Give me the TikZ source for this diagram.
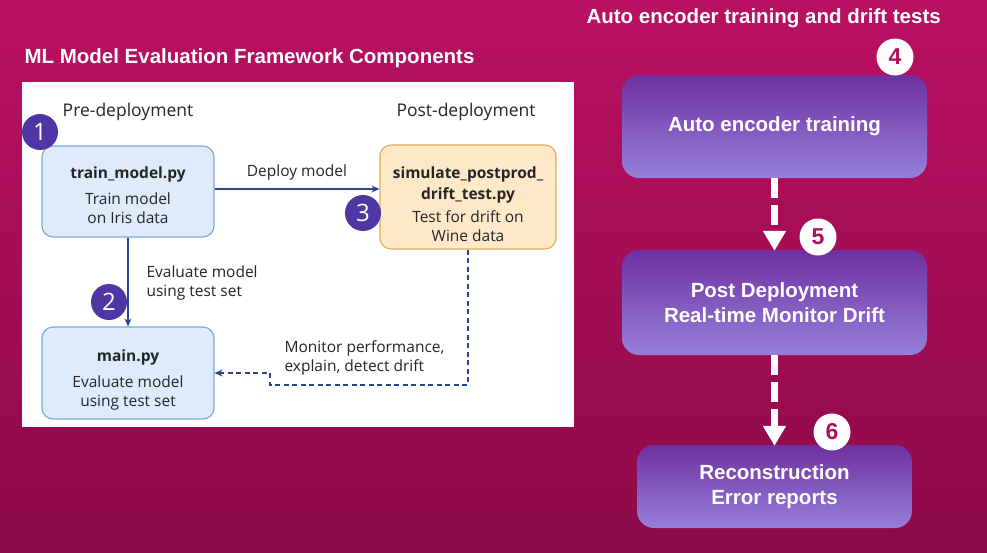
\documentclass[tikz,border=0pt]{standalone}
\usepackage{fontspec}
\setmainfont{Liberation Sans}
\newfontfamily\panelfont{Open Sans}
\usetikzlibrary{arrows.meta,positioning}

\definecolor{bgtop}{RGB}{186,16,98}
\definecolor{bgbot}{RGB}{140,10,72}
\definecolor{stepblue}{RGB}{221,235,251}
\definecolor{stepblueline}{RGB}{126,166,218}
\definecolor{peach}{RGB}{253,233,201}
\definecolor{peachline}{RGB}{231,170,80}
\definecolor{badgepurple}{RGB}{80,54,165}
\definecolor{flowblue}{RGB}{40,70,135}
\definecolor{boxtop}{RGB}{110,48,160}
\definecolor{boxbot}{RGB}{150,128,218}
\definecolor{badgetext}{RGB}{176,16,90}

% box text, set a little below the middle
\newcommand\boxtext[2][7pt]{\raisebox{-#1}[\height][\depth]{\begin{tabular}{@{}c@{}}#2\end{tabular}}}

\tikzset{
  panelbox/.style={draw, line width=1.1pt, rounded corners=11pt, align=center,
    font=\panelfont\fontsize{15.5}{19}\selectfont, text=black!85},
  bluebox/.style={panelbox, fill=stepblue, draw=stepblueline},
  peachbox/.style={panelbox, fill=peach, draw=peachline},
  purplebadge/.style={circle, fill=badgepurple, text=white, minimum size=36pt,
    inner sep=0pt, font=\panelfont\fontsize{24}{24}\selectfont},
  whitebadge/.style={circle, fill=white, text=badgetext, minimum size=37pt,
    inner sep=0pt, font=\bfseries\fontsize{23}{23}\selectfont},
  stagebox/.style={rounded corners=17pt, top color=boxtop, bottom color=boxbot,
    text=white, align=center, font=\bfseries\fontsize{20.5}{25}\selectfont},
  flow/.style={draw=flowblue, line width=1.4pt, -{Stealth[length=8pt,width=7pt]}},
  flowdash/.style={flow, dash pattern=on 5pt off 3.5pt},
  bigflow/.style={draw=white, line width=7pt, dash pattern=on 20pt off 7pt,
    -{Triangle[length=20pt,width=22pt]}, shorten >=-1pt},
  lbl/.style={font=\panelfont\fontsize{15.5}{19}\selectfont, text=black!85}
}

\begin{document}
\begin{tikzpicture}[x=1pt,y=-1pt]
% background and panel
\shade[top color=bgtop, bottom color=bgbot] (0,0) rectangle (987,552);
\fill[white] (22,82) rectangle (574,427);
\useasboundingbox (0,0) rectangle (987,552);

\node[anchor=west, text=white, font=\bfseries\fontsize{20.5}{22}\selectfont] (title) at (21,58) {ML Model Evaluation Framework Components};
\node[anchor=west, text=white, font=\bfseries\fontsize{20.5}{22}\selectfont] (rtitle) at (583,18) {Auto encoder training and drift tests};

% left panel
\node[lbl, font=\panelfont\fontsize{17.5}{19}\selectfont] (pre) at (128,112) {Pre-deployment};
\node[lbl, font=\panelfont\fontsize{17.5}{19}\selectfont] (post) at (466,112) {Post-deployment};

\node[bluebox, minimum width=172pt, minimum height=91pt] (train) at (128,191.5)
  {\boxtext[6pt]{\bfseries train\_model.py\\[7pt] Train model\\ on Iris data}};
\node[bluebox, minimum width=172pt, minimum height=92pt] (main) at (128,373)
  {\boxtext[7.5pt]{\bfseries main.py\\[7pt] Evaluate model\\ using test set}};
\node[peachbox, minimum width=176pt, minimum height=104pt] (sim) at (468,197)
  {\boxtext[9.5pt]{\bfseries simulate\_postprod\_\\[2pt] \bfseries drift\_test.py\\[4pt] Test for drift on\\ Wine data}};

\draw[flow] (train.east |- 0,189) -- (sim.west |- 0,189) node[midway, above=5pt, lbl] {Deploy model};
\draw[flow] (train.south) -- (main.north);
\node[lbl, anchor=west, align=left] (evallbl) at (143,283) {Evaluate model\\ using test set};

\coordinate (kink) at (270,385);
\draw[flowdash] (sim.south) |- (kink) |- (main.east);
\node[lbl, anchor=west, align=left] (monlbl) at (281,358) {Monitor performance,\\ explain, detect drift};

\node[purplebadge] (b1) at (40,132) {1};
\node[purplebadge] (b2) at (109,302) {2};
\node[purplebadge] (b3) at (363,213) {3};

% right column
\node[stagebox, minimum width=305pt, minimum height=103pt] (enc) at (774.5,126.5) {Auto encoder training};
\node[stagebox, minimum width=305pt, minimum height=105pt] (mon) at (774.5,302.5) {Post Deployment\\ Real-time Monitor Drift};
\node[stagebox, minimum width=275pt, minimum height=83pt] (recon) at (774.5,486.5) {Reconstruction\\ Error reports};

\draw[bigflow] (enc.south) -- (mon.north);
\draw[bigflow] (mon.south) -- (recon.north);

\node[whitebadge] (b4) at (895,57) {4};
\node[whitebadge] (b5) at (818,237) {5};
\node[whitebadge] (b6) at (832,432) {6};
\end{tikzpicture}
\end{document}
